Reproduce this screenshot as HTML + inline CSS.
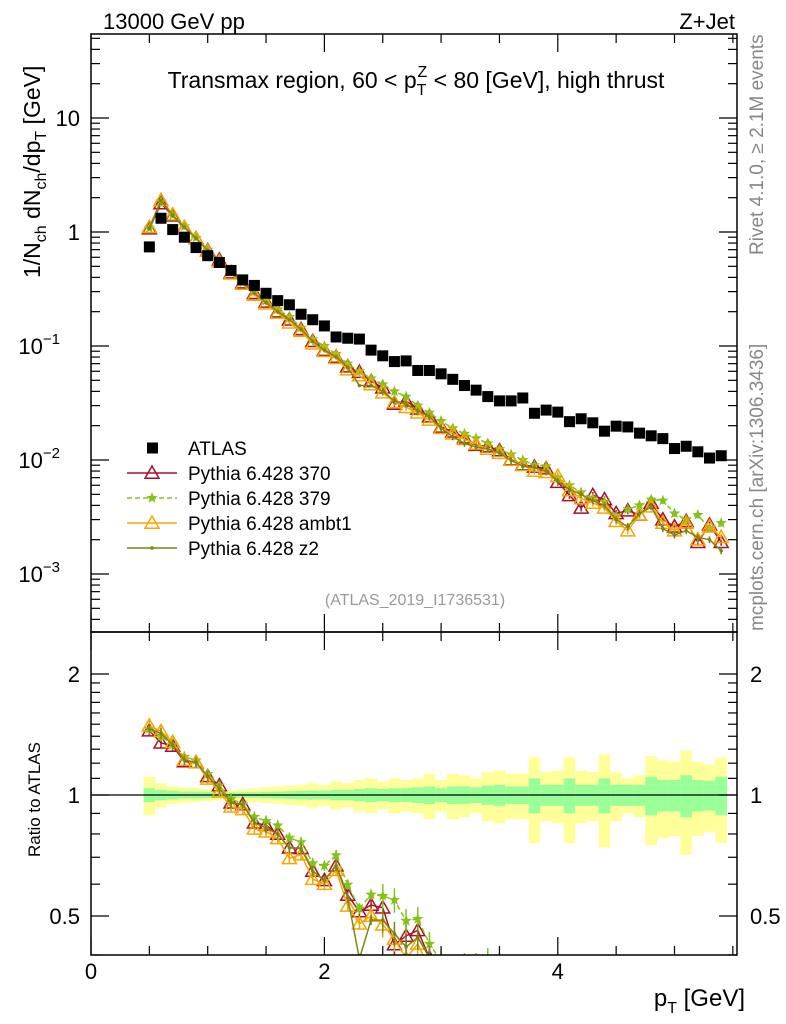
<!DOCTYPE html>
<html><head><meta charset="utf-8"><style>
body{margin:0;background:#fff;overflow:hidden;}
svg text{font-family:"Liberation Sans",Arial,sans-serif;}
</style></head><body>
<svg id="chart" width="786" height="1024" viewBox="0 0 786 1024" xmlns="http://www.w3.org/2000/svg" style="display:block">
<defs>
<clipPath id="clipMain"><rect x="91" y="34" width="646" height="598"/></clipPath>
<clipPath id="clipRatio"><rect x="91" y="632" width="646" height="323"/></clipPath>
</defs>
<g id="bands" clip-path="url(#clipRatio)"></g>
<g id="marks"></g>
<g id="axes"></g>
<text x="103" y="29" font-size="22">13000 GeV pp</text>
<text x="735" y="29" font-size="22" text-anchor="end">Z+Jet</text>
<text x="416" y="88" font-size="23" text-anchor="middle">Transmax region, 60 &lt; p<tspan font-size="16" dy="7">T</tspan><tspan font-size="16" dx="-9" dy="-18">Z</tspan><tspan dy="11"> &lt; 80 [GeV], high thrust</tspan></text>
<text transform="translate(40,278) rotate(-90)" font-size="23">1/N<tspan font-size="16" dy="6">ch</tspan><tspan dy="-6"> dN</tspan><tspan font-size="16" dy="6">ch</tspan><tspan dy="-6">/dp</tspan><tspan font-size="16" dy="6">T</tspan><tspan dy="-6"> [GeV]</tspan></text>
<text transform="translate(40,857) rotate(-90)" font-size="17">Ratio to ATLAS</text>
<text transform="translate(763,255) rotate(-90)" font-size="19" fill="#888">Rivet 4.1.0, ≥ 2.1M events</text>
<text transform="translate(763,631) rotate(-90)" font-size="19" fill="#888">mcplots.cern.ch [arXiv:1306.3436]</text>
<text x="415" y="605" font-size="16" fill="#999" text-anchor="middle">(ATLAS_2019_I1736531)</text>
<text x="745" y="1006" font-size="24" text-anchor="end">p<tspan font-size="16" dy="7">T</tspan><tspan dy="-7"> [GeV]</tspan></text>
<g id="legend"></g>
</svg>
<script>
const xCenters = [0.5,0.6,0.7,0.8,0.9,1.0,1.1,1.2,1.3,1.4,1.5,1.6,1.7,1.8,1.9,2.0,2.1,2.2,2.3,2.4,2.5,2.6,2.7,2.8,2.9,3.0,3.1,3.2,3.3,3.4,3.5,3.6,3.7,3.8,3.9,4.0,4.1,4.2,4.3,4.4,4.5,4.6,4.7,4.8,4.9,5.0,5.1,5.2,5.3,5.4];
const atlas = [0.74,1.32,1.05,0.90,0.73,0.62,0.54,0.46,0.38,0.34, 0.29,0.25,0.23,0.19,0.17,0.15,0.12,0.117,0.115,0.092, 0.082,0.073,0.074,0.061,0.061,0.057,0.051,0.045,0.041,0.036, 0.033,0.033,0.035,0.0257,0.0274,0.0263,0.0217,0.023,0.0212,0.0179, 0.0198,0.0195,0.0172,0.0163,0.0154,0.0126,0.0132,0.0118,0.0104,0.0109];
const p370 = [1.07,1.78,1.39,1.09,0.88,0.69,0.57,0.44,0.36,0.29, 0.244,0.20,0.17,0.14,0.11,0.092,0.080,0.066,0.059,0.049, 0.043,0.031,0.033,0.0281,0.024,0.0195,0.0177,0.0157,0.0135,0.0131, 0.0121,0.0101,0.0091,0.0087,0.0084,0.0064,0.0049,0.0038,0.0049,0.0045, 0.0034,0.0036,0.0033,0.0042,0.0030,0.0026,0.0029,0.0019,0.0027,0.0019];
const p379 = [1.08,1.85,1.40,1.12,0.89,0.70,0.57,0.45,0.36,0.30, 0.25,0.21,0.18,0.145,0.115,0.100,0.085,0.070,0.060,0.052, 0.046,0.040,0.036,0.030,0.026,0.022,0.019,0.017,0.0155,0.014, 0.0125,0.0112,0.0100,0.0090,0.0088,0.0070,0.0060,0.0052,0.0046,0.0043, 0.0032,0.0037,0.0040,0.0045,0.0044,0.0034,0.0030,0.0033,0.0025,0.0028];
const pambt1 = [1.10,1.90,1.42,1.10,0.88,0.68,0.55,0.43,0.35,0.28, 0.235,0.195,0.16,0.135,0.105,0.090,0.078,0.062,0.055,0.046, 0.039,0.032,0.029,0.026,0.0225,0.019,0.017,0.0152,0.0138,0.0125, 0.0115,0.0100,0.0090,0.0080,0.0078,0.0072,0.0054,0.0046,0.0042,0.0038, 0.0029,0.0024,0.0033,0.0039,0.0028,0.0024,0.0028,0.0020,0.0026,0.0021];
const pz2 = [1.08,1.88,1.40,1.10,0.88,0.69,0.56,0.44,0.36,0.29, 0.24,0.20,0.17,0.14,0.11,0.092,0.080,0.065,0.045,0.045, 0.040,0.033,0.031,0.027,0.024,0.019,0.016,0.014,0.013,0.0125, 0.0115,0.0099,0.0088,0.0086,0.0080,0.0065,0.0055,0.0050,0.0044,0.0040, 0.0030,0.0026,0.0034,0.0039,0.0025,0.0022,0.0024,0.0021,0.0020,0.0016];
const errTot = [0.11,0.07,0.05,0.045,0.04,0.035,0.03,0.03,0.035,0.04, 0.045,0.05,0.055,0.06,0.07,0.06,0.08,0.07,0.09,0.10, 0.08,0.10,0.09,0.10,0.13,0.09,0.13,0.12,0.10,0.14, 0.15,0.13,0.13,0.24,0.14,0.15,0.24,0.15,0.14,0.26, 0.14,0.10,0.12,0.25,0.22,0.21,0.29,0.21,0.19,0.24];
const errStat = [0.04,0.03,0.025,0.02,0.02,0.018,0.016,0.015,0.015,0.016, 0.018,0.02,0.022,0.024,0.026,0.025,0.03,0.03,0.035,0.04, 0.035,0.04,0.04,0.045,0.05,0.04,0.05,0.05,0.045,0.055, 0.06,0.05,0.05,0.10,0.06,0.06,0.10,0.06,0.06,0.10, 0.06,0.06,0.06,0.11,0.09,0.09,0.12,0.09,0.085,0.11];
const xTicks = [0,2,4];
const yTickValues = [10,1,0.1,0.01,0.001];
const yTickExps = ["","","−1","−2","−3"];
const rTicks = [0.5,1,2];

const NS="http://www.w3.org/2000/svg";
const X0=91,X1=737,MT=34,MB=632,RB=955;
const xs=v=>X0+v*116.7;
const ym=v=>232-Math.log10(v)*114;
const yr=v=>795-Math.log10(v)*402;
function mk(tag,attrs,parent){const e=document.createElementNS(NS,tag);for(const k in attrs)e.setAttribute(k,attrs[k]);parent.appendChild(e);return e;}
const axes=document.getElementById('axes'),marks=document.getElementById('marks'),bands=document.getElementById('bands'),legend=document.getElementById('legend');

const half=0.05;
xCenters.forEach((c,i)=>{
  const y1=mk('rect',{x:xs(c-half),width:xs(c+half)-xs(c-half),y:yr(1+errTot[i]),height:yr(1-errTot[i])-yr(1+errTot[i]),fill:'#ffff99'},bands);
  
  
});
xCenters.forEach((c,i)=>{
  const y2=mk('rect',{x:xs(c-half),width:xs(c+half)-xs(c-half),y:yr(1+errStat[i]),height:yr(1-errStat[i])-yr(1+errStat[i]),fill:'#99ff99'},bands);
  
  
});
const one=mk('line',{x1:X0,x2:X1,y1:yr(1),y2:yr(1),stroke:'#000','stroke-width':1.3},bands);



function tri(g,x,y,col,fill){const s=7;return mk('polygon',{points:`${x},${y-s} ${x-s},${y+s*0.75} ${x+s},${y+s*0.75}`,fill:fill||'none',stroke:col,'stroke-width':1.5},g);}
function star(g,x,y,col){let pts=[];for(let k=0;k<10;k++){const r=k%2?2.5:6;const a=-Math.PI/2+k*Math.PI/5;pts.push((x+r*Math.cos(a)).toFixed(1)+','+(y+r*Math.sin(a)).toFixed(1));}return mk('polygon',{points:pts.join(' '),fill:col,stroke:'none'},g);}
function dot(g,x,y,col){return mk('circle',{cx:x,cy:y,r:1.8,fill:col},g);}

const series=[
 {name:'pythia-370',data:p370,col:'#a8102a',dash:null,m:'tri'},
 {name:'pythia-379',data:p379,col:'#84c21a',dash:'5,3',m:'star'},
 {name:'pythia-ambt1',data:pambt1,col:'#f5a500',dash:null,m:'tri'},
 {name:'pythia-z2',data:pz2,col:'#7b8616',dash:null,m:'dot'}
];
series.forEach(s=>{
  ['main','ratio'].forEach(panel=>{
    const g=mk('g',{'clip-path':panel=='main'?'url(#clipMain)':'url(#clipRatio)'},marks);
    
    
    const f=panel=='main'?(i=>ym(s.data[i])):(i=>yr(s.data[i]/atlas[i]));
    const pts=xCenters.map((c,i)=>xs(c).toFixed(1)+','+f(i).toFixed(1)).join(' ');
    const pl=mk('polyline',{points:pts,fill:'none',stroke:s.col,'stroke-width':1.5},g);
    if(s.dash)pl.setAttribute('stroke-dasharray',s.dash);
    xCenters.forEach((c,i)=>{
      const x=xs(c),y=f(i);
      const rel=i<20?0.03:0.07;
      const v=panel=='main'?s.data[i]:s.data[i]/atlas[i];
      const yy=panel=='main'?ym:yr;
      mk('line',{x1:x,x2:x,y1:yy(v*(1+rel)),y2:yy(v*(1-rel)),stroke:s.col,'stroke-width':1.5},g);
      let e;
      if(s.m=='tri')e=tri(g,x,y,s.col);else if(s.m=='star')e=star(g,x,y,s.col);else e=dot(g,x,y,s.col);
      
      
    });
  });
});
const ga=mk('g',{'clip-path':'url(#clipMain)'},marks);


xCenters.forEach((c,i)=>{
  const r=mk('rect',{x:xs(c)-5.5,y:ym(atlas[i])-5.5,width:11,height:11,fill:'#000'},ga);
  
  
});

[[MT,MB],[MB,RB]].forEach(([t,b])=>{
  const fr=mk('rect',{x:X0,y:t,width:X1-X0,height:b-t,fill:'none',stroke:'#000','stroke-width':1.5},axes);
  
  
});
for(let v=0;v<=5.5;v+=0.5){
  const major=Math.abs(v%2)<1e-6;const L=major?18:9;const x=xs(v);
  [[MT,1],[MB,-1],[MB,1],[RB,-1]].forEach(([y,d])=>mk('line',{x1:x,x2:x,y1:y,y2:y+d*L,stroke:'#000','stroke-width':1.2},axes));
}
xTicks.forEach(v=>{const t=mk('text',{x:xs(v),y:979,'font-size':22,'text-anchor':'middle'},axes);t.textContent=String(v);
 
 });
for(let d=-4;d<=1;d++){for(let k=1;k<=9;k++){const v=k*Math.pow(10,d);const y=ym(v);if(y<MT||y>MB)continue;const L=k==1?18:9;
 mk('line',{x1:X0,x2:X0+L,y1:y,y2:y,stroke:'#000','stroke-width':1.2},axes);
 mk('line',{x1:X1,x2:X1-L,y1:y,y2:y,stroke:'#000','stroke-width':1.2},axes);}}
yTickValues.forEach((v,i)=>{const exp=yTickExps[i];
 const t=mk('text',{x:exp?66:80,y:ym(v)+8,'font-size':22,'text-anchor':'end'},axes);
 t.textContent=exp?'10':String(v);
 if(exp){const ts=mk('tspan',{'font-size':15,dy:-10},t);ts.textContent=exp;t.setAttribute('x',60);}
 
 });
[0.4,0.5,0.6,0.7,0.8,0.9,1,1.1,1.2,1.3,1.4,1.5,1.6,1.7,1.8,1.9,2].forEach(v=>{const y=yr(v);if(y<MB||y>RB)return;const L=rTicks.includes(v)?18:9;
 mk('line',{x1:X0,x2:X0+L,y1:y,y2:y,stroke:'#000','stroke-width':1.2},axes);
 mk('line',{x1:X1,x2:X1-L,y1:y,y2:y,stroke:'#000','stroke-width':1.2},axes);});
rTicks.forEach(v=>{[[80,'end'],[750,'start']].forEach(([x,a])=>{const t=mk('text',{x:x,y:yr(v)+8,'font-size':22,'text-anchor':a},axes);t.textContent=String(v);
 
 });});

const leg=[['ATLAS','#000','sq',null],['Pythia 6.428 370','#a8102a','tri',null],['Pythia 6.428 379','#84c21a','star','5,3'],['Pythia 6.428 ambt1','#f5a500','tri',null],['Pythia 6.428 z2','#7b8616','dot',null]];
leg.forEach((l,i)=>{const y=448+i*25;const g=mk('g',{},legend);
 
 
 if(l[2]=='sq')mk('rect',{x:147,y:y-5.5,width:11,height:11,fill:'#000'},g);
 else{const ln=mk('line',{x1:127,x2:177,y1:y,y2:y,stroke:l[1],'stroke-width':1.5},g);if(l[3])ln.setAttribute('stroke-dasharray',l[3]);
  if(l[2]=='tri')tri(g,152,y,l[1]);else if(l[2]=='star')star(g,152,y,l[1]);else dot(g,152,y,l[1]);}
 const t=mk('text',{x:188,y:y+7,'font-size':19},g);t.textContent=l[0];});
</script>
</body></html>
